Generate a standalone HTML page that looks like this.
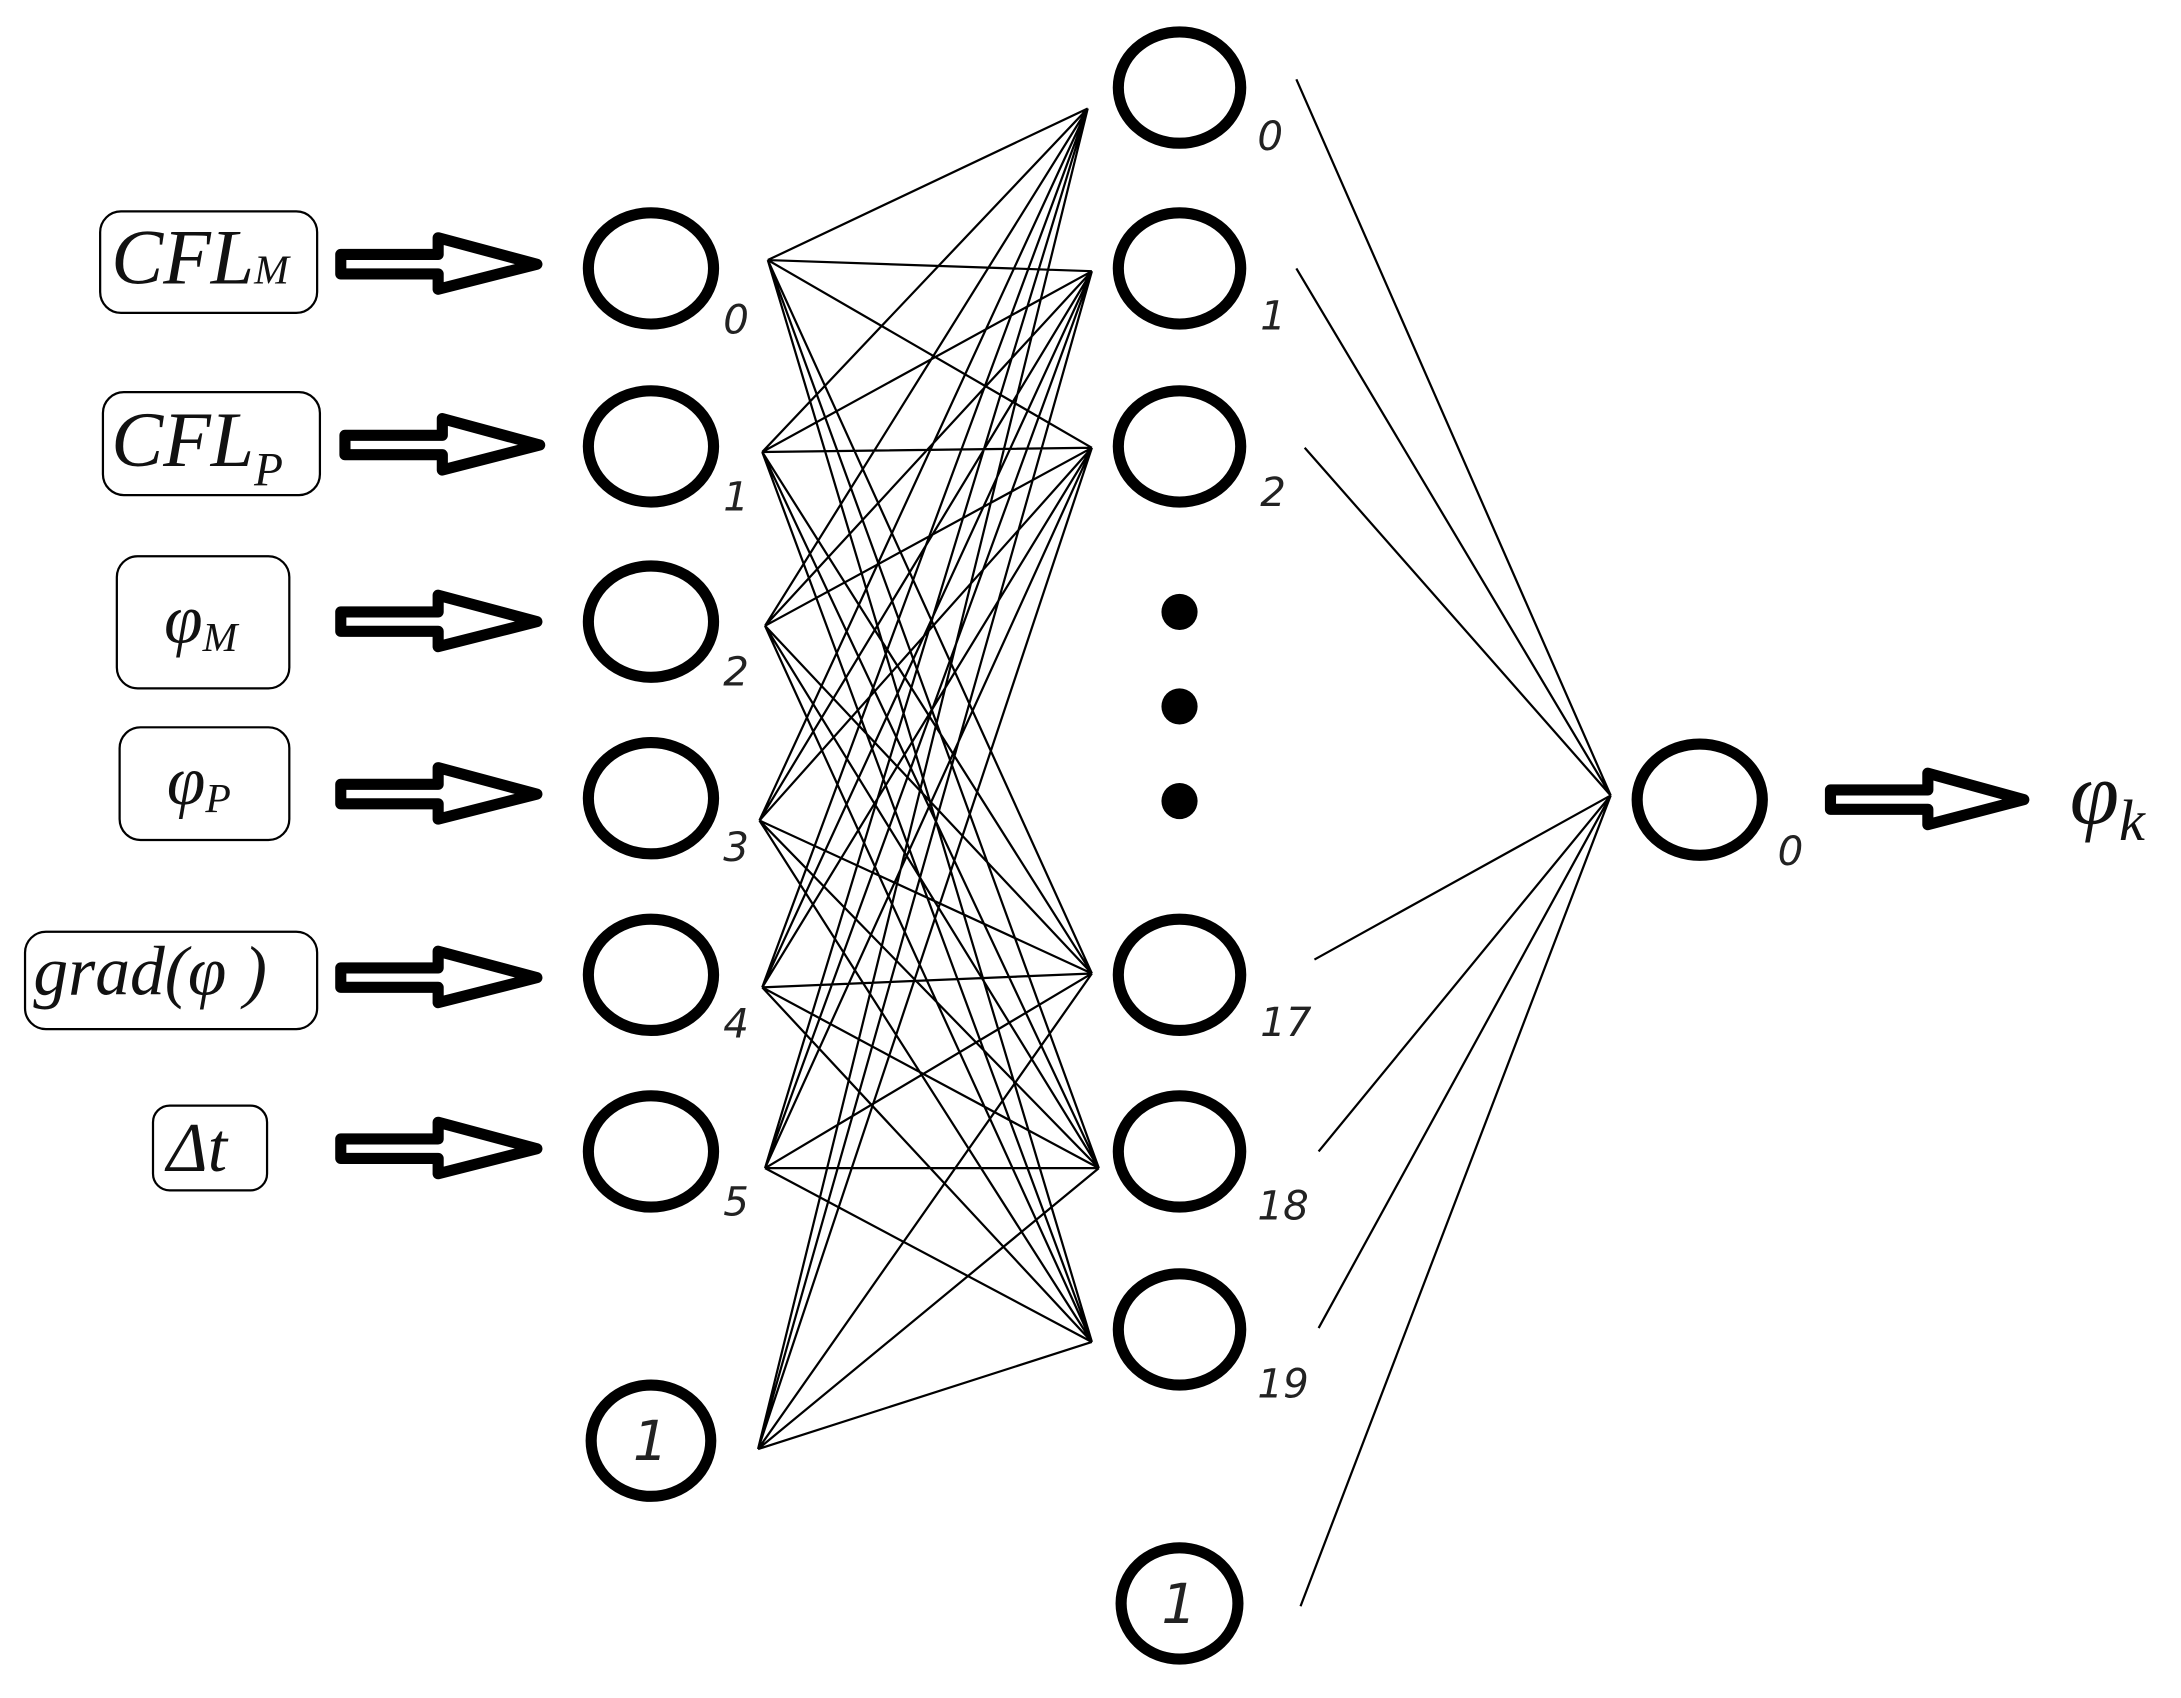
<!DOCTYPE html>
<html><head><meta charset="utf-8"><style>
html,body{margin:0;padding:0;background:#fff;}
svg{display:block;}
.lbl{font-family:"DejaVu Sans","Liberation Sans",sans-serif;font-style:italic;font-size:29px;fill:#222;}
.inp{font-family:"Liberation Serif",serif;font-style:italic;fill:#111;}
</style></head><body>
<svg width="2181" height="1698" viewBox="0 0 1568 1221" preserveAspectRatio="none" xmlns="http://www.w3.org/2000/svg">
<rect width="1568" height="1221" fill="#fff"/>
<path fill="none" stroke="#000" stroke-width="1.6" d="
M552,187L782,78 M552,187L785,195 M552,187L785,322 M552,187L785,700 M552,187L790,840 M552,187L785,965
M548,325L782,78 M548,325L785,195 M548,325L785,322 M548,325L785,700 M548,325L790,840 M548,325L785,965
M550,450L782,78 M550,450L785,195 M550,450L785,322 M550,450L785,700 M550,450L790,840 M550,450L785,965
M546,590L782,78 M546,590L785,195 M546,590L785,322 M546,590L785,700 M546,590L790,840 M546,590L785,965
M548,710L782,78 M548,710L785,195 M548,710L785,322 M548,710L785,700 M548,710L790,840 M548,710L785,965
M550,840L782,78 M550,840L785,195 M550,840L785,322 M550,840L785,700 M550,840L790,840 M550,840L785,965
M545,1042L782,78 M545,1042L785,195 M545,1042L785,322 M545,1042L785,700 M545,1042L790,840 M545,1042L785,965
M932,57L1158,572 M932,193L1158,572 M938,322L1158,572 M945,690L1158,572 M948,828L1158,572 M948,955L1158,572 M935,1155L1158,572"/>
<!-- input boxes -->
<g fill="#fff" stroke="#000" stroke-width="1.6">
<rect x="72" y="152" width="156" height="73" rx="15"/>
<rect x="74" y="282" width="156" height="74" rx="15"/>
<rect x="84" y="400" width="124" height="95" rx="15"/>
<rect x="86" y="523" width="122" height="81" rx="15"/>
<rect x="18" y="670" width="210" height="70" rx="15"/>
<rect x="110" y="795" width="82" height="61" rx="12"/>
</g>
<text class="inp" x="80" y="204" font-size="56">CFL<tspan font-size="30">M</tspan></text>
<text class="inp" x="80" y="335" font-size="56">CFL<tspan font-size="34" dy="14">P</tspan></text>
<text class="inp" x="118" y="462" font-size="50">φ<tspan font-size="30" dy="6">M</tspan></text>
<text class="inp" x="120" y="578" font-size="50">φ<tspan font-size="30" dy="6">P</tspan></text>
<text class="inp" x="24" y="715" font-size="50">grad(φ )</text>
<text class="inp" x="120" y="842" font-size="50" font-style="normal">Δ<tspan font-style="italic">t</tspan></text>
<!-- hollow arrows -->
<g fill="#fff" stroke="#000" stroke-width="8" stroke-linejoin="round">
<polygon points="245,183 315,183 315,171 386,190 315,208 315,197 245,197"/>
<polygon points="248,313 318,313 318,301 388,320 318,338 318,327 248,327"/>
<polygon points="245,440 315,440 315,428 386,447 315,465 315,454 245,454"/>
<polygon points="245,564 315,564 315,552 386,571 315,589 315,578 245,578"/>
<polygon points="245,696 315,696 315,684 386,703 315,721 315,710 245,710"/>
<polygon points="245,819 315,819 315,807 386,826 315,844 315,833 245,833"/>
<polygon points="1316,568 1386,568 1386,556 1455,575 1386,593 1386,582 1316,582"/>
</g>
<text class="inp" x="1488" y="592" font-size="64">φ<tspan font-size="42" dy="12">k</tspan></text>
<!-- nodes -->
<g fill="#fff" stroke="#000" stroke-width="8">
<ellipse cx="468" cy="193" rx="45" ry="40"/>
<ellipse cx="468" cy="321" rx="45" ry="40"/>
<ellipse cx="468" cy="447" rx="45" ry="40"/>
<ellipse cx="468" cy="574" rx="45" ry="40"/>
<ellipse cx="468" cy="701" rx="45" ry="40"/>
<ellipse cx="468" cy="828" rx="45" ry="40"/>
<ellipse cx="468" cy="1036" rx="43" ry="40"/>
<ellipse cx="848" cy="63" rx="44" ry="40"/>
<ellipse cx="848" cy="193" rx="44" ry="40"/>
<ellipse cx="848" cy="321" rx="44" ry="40"/>
<ellipse cx="848" cy="701" rx="44" ry="40"/>
<ellipse cx="848" cy="828" rx="44" ry="40"/>
<ellipse cx="848" cy="956" rx="44" ry="40"/>
<ellipse cx="848" cy="1153" rx="42" ry="40"/>
<ellipse cx="1222" cy="575" rx="45" ry="40"/>
</g>
<g fill="#000"><circle cx="848" cy="440" r="13"/><circle cx="848" cy="508" r="13"/><circle cx="848" cy="576" r="13"/></g>
<text class="lbl" x="455" y="1050" style="font-size:40px">1</text>
<text class="lbl" x="835" y="1167" style="font-size:40px">1</text>
<g class="lbl">
<text x="520" y="240">0</text><text x="520" y="367">1</text><text x="520" y="493">2</text>
<text x="520" y="619">3</text><text x="520" y="746">4</text><text x="520" y="874">5</text>
<text x="904" y="108">0</text><text x="906" y="237">1</text><text x="906" y="364">2</text>
<text x="906" y="745">17</text><text x="904" y="877">18</text><text x="904" y="1005">19</text>
<text x="1278" y="622">0</text>
</g>
</svg>
</body></html>
